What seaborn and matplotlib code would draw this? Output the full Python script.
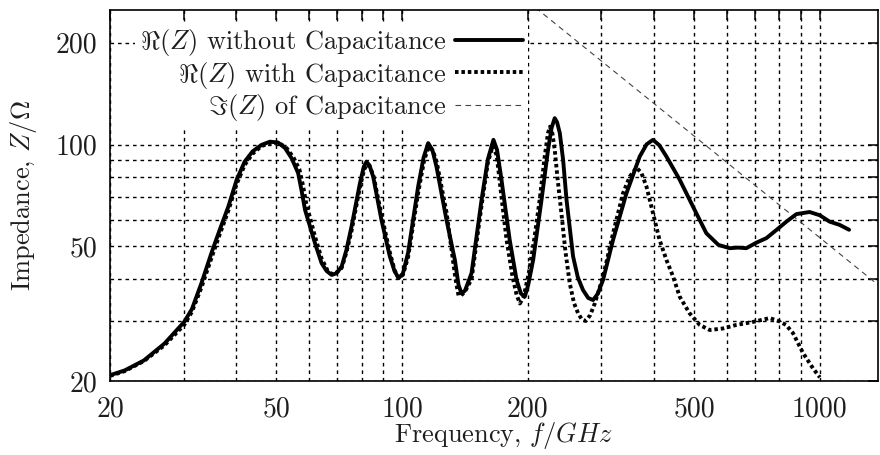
import numpy as np
import pandas as pd
import matplotlib
matplotlib.use("Agg")
import matplotlib.pyplot as plt
import seaborn as sns
from matplotlib.ticker import FixedLocator, FixedFormatter, NullFormatter

# ---------------- data ----------------
freq_without = [20, 21.7, 24.1, 27.0, 30.1, 31.4, 33.1, 35.0, 36.6, 38.4, 40.2, 42.0, 43.9,
                46.1, 48.3, 50.5, 52.5, 54.4, 56.4, 57.5, 58.6, 61.9, 64.2, 66.0, 67.8,
                69.6, 71.7, 73.6, 75.7, 79.3, 81.0, 82.2, 83.6, 85.3, 89.3, 93.5, 96.0,
                98.2, 100.5, 103.4, 109.3, 112.6, 115.5, 118.2, 120.9, 127.8, 133.8,
                136.5, 138.8, 141.5, 146.7, 155, 160.5, 165.5, 168.8, 173, 181, 188,
                192.5, 196.7, 200.5, 206, 215.7, 223.6, 228, 232, 235, 238.6, 243,
                247.6, 256.7, 263.5, 271, 279, 286.6, 294, 302.8, 320, 344.5, 370.6,
                385, 398.8, 413, 429.4, 462, 497, 535, 572, 608.6, 637, 667,
                705, 745, 787, 832, 879, 945, 1000, 1055, 1115, 1175]
z_without = [20.8, 21.5, 23.0, 25.8, 29.9, 32.6, 38.9, 47.9, 55.9, 65.6, 78.7, 89.0, 95.5,
             99.8, 102, 101.4, 97.6, 91.2, 82.4, 73.0, 64.1, 51.1, 44.6, 42.3, 41.2,
             41.6, 43.6, 48.8, 57.2, 76.9, 86.0, 89.0, 86.8, 80.4, 59.8, 46.7, 42.2,
             40.3, 41.6, 47.9, 75.2, 91.5, 101, 96.5, 86.1, 59.8, 45.6,
             38.5, 36.3, 37.0, 41.7, 68.6, 90.5, 103.3, 96.5, 78.7, 52.3, 39.8,
             36.3, 35.5, 38.5, 45.6, 68.6, 96.5, 112, 119.7, 116.5, 108.1, 90,
             68.6, 46.7, 40.5, 37.2, 35.2, 34.7, 36.2, 39.8, 52.3, 71.8, 92.2,
             100.2, 103.3, 99.5, 92.2, 78.7, 65.6, 54.7, 50.5, 49.4, 49.6, 49.4,
             51.3, 52.9, 55.9, 59.2, 62.3, 63.2, 61.8, 59.2, 57.9, 56.0]

freq_with = [20, 21.7, 24.1, 27.0, 30.1, 31.4, 33.1, 35.0, 36.6, 38.4, 40.2, 42.0, 43.9,
             46.1, 48.8, 51.0, 53.0, 55.0, 56.8, 57.9, 58.9, 61.9, 64.2, 66.3, 68.2,
             70.0, 71.7, 73.6, 75.7, 79.3, 81.2, 82.5, 83.8, 85.5, 89.3, 93.5, 96.0,
             98.0, 100.5, 103.4, 109.3, 113, 115.8, 118.5, 121, 127.8, 131.5, 134.3,
             136.5, 138.5, 141.5, 146.7, 155, 160.5, 164.8, 168.5, 173, 177.9, 184,
             188, 191.5, 195.5, 201.1, 207, 213.5, 219.5, 223.5, 226, 229, 232, 236,
             240.7, 246, 252, 258, 263.9, 269.5, 275.3, 282, 289.3, 302.8, 320, 338,
             351, 364, 374, 384.6, 398.8, 413, 429.4, 445.5, 462, 488, 515.7, 545,
             586.5, 631.4, 692, 758.5, 801, 830, 862.6, 911.6, 963, 1000]
z_with = [20.7, 21.4, 22.9, 25.5, 29.3, 32.0, 37.8, 46.3, 54.2, 63.8, 76.5, 87.0, 94.0,
          99.0, 101.5, 100.8, 97.5, 91.5, 84.5, 76.0, 67.5, 53.5, 46.0, 42.5, 41.3,
          42.0, 43.2, 48.0, 55.5, 75.0, 84.5, 87.5, 86.0, 80.5, 62.0, 48.0, 42.5,
          40.3, 41.2, 46.5, 72.0, 90.0, 98.5, 96.0, 89.0, 63.0, 48.5, 40.0,
          35.8, 35.8, 36.8, 40.0, 66.0, 88.5, 99.0, 93.0, 70.0, 52.3, 40.5,
          36.0, 33.9, 35.5, 41.7, 52.0, 68.6, 92.0, 108, 113, 108, 96.5, 78.0,
          62.7, 48.5, 38.9, 34.0, 31.7, 30.4, 30.1, 31.3, 33.9, 40.7, 54.7, 71.8,
          80.5, 85.5, 82.5, 75.2, 62.7, 52.5, 45.6, 40.7, 35.5, 31.7, 29.3, 28.3,
          28.6, 29.3, 29.9, 30.7, 30.0, 29.3, 27.7, 24.2, 21.8, 20.5]

freq_cap = [200, 1400]
z_cap = [265, 37.9]

x_major = [20, 50, 100, 200, 500, 1000]
x_minor = [30, 40, 60, 70, 80, 90, 300, 400, 600, 700, 800, 900]
y_major = [20, 50, 100, 200]
y_minor = [30, 40, 60, 70, 80, 90]

labels = [r"$\Re(Z)$ without Capacitance",
          r"$\Re(Z)$ with Capacitance",
          r"$\Im(Z)$ of Capacitance"]

# ---------------- style ----------------
sns.set_style("white")
plt.rcParams["font.family"] = ["cmr10", "DejaVu Serif"]
plt.rcParams["mathtext.fontset"] = "cm"
plt.rcParams["axes.formatter.use_mathtext"] = True
plt.rcParams["axes.unicode_minus"] = False
txt = "#1e1e1e"

fig = plt.figure(figsize=(8.8, 4.55), dpi=100)
ax = fig.add_axes([110 / 880, (455 - 381) / 455, (878 - 110) / 880, (381 - 10) / 455])

df1 = pd.DataFrame({"f": freq_without, "z": z_without})
df2 = pd.DataFrame({"f": freq_with, "z": z_with})
df3 = pd.DataFrame({"f": freq_cap, "z": z_cap})

sns.lineplot(data=df1, x="f", y="z", ax=ax, color="black", lw=2.8, label=labels[0],
             sort=False, zorder=3, solid_joinstyle="round")
sns.lineplot(data=df2, x="f", y="z", ax=ax, color="black", lw=2.8, label=labels[1],
             sort=False, zorder=3, linestyle=(0, (0.9, 0.75)), dash_capstyle="butt")
sns.lineplot(data=df3, x="f", y="z", ax=ax, color="#444444", lw=0.8, label=labels[2],
             sort=False, zorder=2, linestyle=(0, (5, 4)))

ax.set_xscale("log")
ax.set_yscale("log")
ax.set_xlim(20, 1378)
ax.set_ylim(20, 250)

ax.xaxis.set_major_locator(FixedLocator(x_major))
ax.xaxis.set_major_formatter(FixedFormatter([str(v) for v in x_major]))
ax.xaxis.set_minor_locator(FixedLocator(x_minor))
ax.xaxis.set_minor_formatter(NullFormatter())
ax.yaxis.set_major_locator(FixedLocator(y_major))
ax.yaxis.set_major_formatter(FixedFormatter([str(v) for v in y_major]))
ax.yaxis.set_minor_locator(FixedLocator(y_minor))
ax.yaxis.set_minor_formatter(NullFormatter())

ax.grid(True, which="both", color="black", lw=1.0, linestyle=(0, (2.6, 2.8)))
ax.set_axisbelow(True)

ax.tick_params(which="both", direction="in", length=7, width=1.1, top=True, right=True,
               labelsize=20, colors="black", labelcolor=txt)
ax.tick_params(axis="x", pad=11)
ax.tick_params(axis="y", pad=9)
for s in ax.spines.values():
    s.set_color("black")
    s.set_linewidth(1.2)

ax.set_xlabel(r"Frequency, $f/GHz$", fontsize=19, color=txt, labelpad=2)
ax.xaxis.set_label_coords((503 - 110) / 768, -0.105)
ax.set_ylabel(r"Impedance, $Z/\Omega$", fontsize=19, color=txt, labelpad=12)

leg = ax.legend(loc="upper right",
                bbox_to_anchor=((528 - 110) / 768, 1 - 12 / 371),
                markerfirst=False, frameon=True, facecolor="white", edgecolor="none",
                framealpha=1, fancybox=False, fontsize=19, handlelength=2.55,
                handletextpad=0.35, labelspacing=0.05, borderpad=0.2, borderaxespad=0)
for t in leg.get_texts():
    t.set_color(txt)
leg.set_zorder(10)

fig.savefig("out.png", dpi=100)
